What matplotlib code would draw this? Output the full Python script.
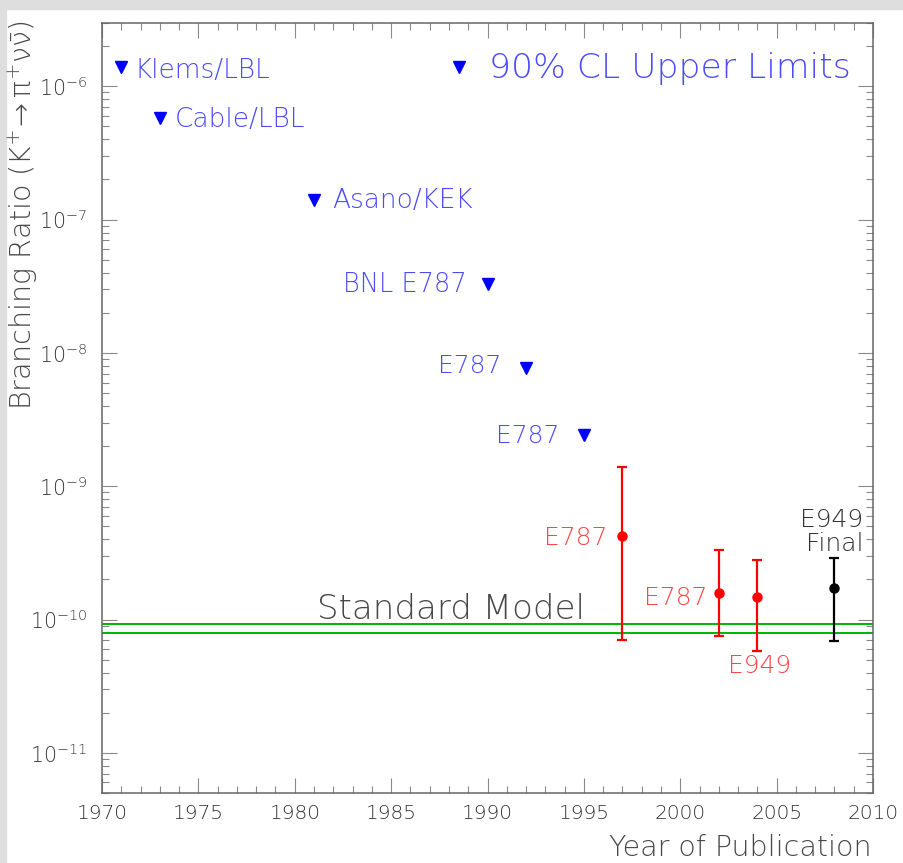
import matplotlib
matplotlib.use("Agg")
import matplotlib.pyplot as plt
from matplotlib.patches import Rectangle
from matplotlib.ticker import LogLocator, MultipleLocator, LogFormatterMathtext, NullFormatter

# ---------------- data ----------------
ul_years = [1971, 1973, 1981, 1990, 1992, 1995]
ul_values = [1.4e-6, 5.8e-7, 1.4e-7, 3.3e-8, 7.7e-9, 2.44e-9]
ul_labels = ["Klems/LBL", "Cable/LBL", "Asano/KEK", "BNL E787", "E787", "E787"]

legend_year = 1988.5
legend_value = 1.4e-6
legend_label = "90% CL Upper Limits"

meas_years = [1997, 2002, 2004, 2008]
meas_values = [4.2e-10, 1.57e-10, 1.47e-10, 1.73e-10]
meas_low = [7.0e-11, 7.5e-11, 5.8e-11, 6.9e-11]
meas_high = [1.4e-9, 3.35e-10, 2.8e-10, 2.9e-10]
meas_labels = ["E787", "E787", "E949", "E949", "Final"]

sm_band = [7.9e-11, 9.3e-11]
sm_label = "Standard Model"

x_ticks = [1970, 1975, 1980, 1985, 1990, 1995, 2000, 2005, 2010]
y_ticks = [1e-11, 1e-10, 1e-9, 1e-8, 1e-7, 1e-6]
x_range = (1970, 2010)
y_range = (5e-12, 3e-6)

# ---------------- style ----------------
FONT = "DejaVu Sans"
plt.rcParams["font.family"] = [FONT]
plt.rcParams["font.weight"] = 200
plt.rcParams["mathtext.fontset"] = "custom"
plt.rcParams["mathtext.rm"] = "DejaVu Sans:weight=200"
plt.rcParams["mathtext.it"] = "DejaVu Sans:italic:weight=200"
plt.rcParams["mathtext.bf"] = "DejaVu Sans:bold"
plt.rcParams["mathtext.default"] = "regular"

BLUE_TXT = "#4a4aff"
RED_TXT = "#ff4545"
DARK_TXT = "#333333"
GREY_TXT = "#484848"
AX_COL = "#666666"
TICK_COL = "#8a8a8a"

W, H = 904, 863
fig = plt.figure(figsize=(W / 100, H / 100), dpi=100)
fig.patch.set_facecolor("white")
# textured-paper border strips
fig.patches.append(Rectangle((0, 1 - 9 / H), 1, 9 / H, transform=fig.transFigure,
                             color="#dedede", zorder=-10))
fig.patches.append(Rectangle((0, 0), 6 / W, 1, transform=fig.transFigure,
                             color="#dedede", zorder=-10))

L, R, T, B = 102, 873, 22.7, 793
ax = fig.add_axes([L / W, (H - B) / H, (R - L) / W, (B - T) / H])
ax.set_yscale("log")
ax.set_xlim(*x_range)

for s in ax.spines.values():
    s.set_color(AX_COL)
    s.set_linewidth(1.1)

ax.xaxis.set_minor_locator(MultipleLocator(1))
ax.set_xticks(x_ticks)
ax.set_yticks(y_ticks)
ax.yaxis.set_minor_locator(LogLocator(base=10, subs=range(2, 10), numticks=40))
ax.yaxis.set_major_formatter(LogFormatterMathtext())
ax.yaxis.set_minor_formatter(NullFormatter())
ax.set_ylim(*y_range)

ax.tick_params(which="both", direction="in", top=True, right=True, color=TICK_COL,
               width=0.8, labelcolor=DARK_TXT)
ax.tick_params(which="major", length=10.5)
ax.tick_params(which="minor", length=5)
ax.tick_params(axis="x", which="major", labelsize=14.5, pad=8)
ax.tick_params(axis="y", which="major", labelsize=14.8, pad=11)

# Standard Model band edges
for v in sm_band:
    ax.axhline(v, color="#00b400", lw=1.4, zorder=2)
ax.annotate(sm_label, xy=(1988.1, sm_band[1]), xytext=(0, 3.6), textcoords="offset points",
            ha="center", va="baseline", fontsize=24.5, color=GREY_TXT)

# upper limits
ax.plot(ul_years, ul_values, linestyle="none", marker="v", ms=8.8, color="#0000ff", zorder=4)
ax.plot([legend_year], [legend_value], linestyle="none", marker="v", ms=8.8,
        color="#0000ff", zorder=4)

ul_offsets = [(9.4, -7.9, "left", 19), (10.8, -6.3, "left", 19), (13.0, -5.8, "left", 19),
              (-15.1, -5.8, "right", 18.5), (-18.0, -3.8, "right", 18),
              (-17.8, -6.3, "right", 18)]
for x, y, lab, (dx, dy, ha, fs) in zip(ul_years, ul_values, ul_labels, ul_offsets):
    ax.annotate(lab, xy=(x, y), xytext=(dx, dy), textcoords="offset points",
                ha=ha, va="baseline", fontsize=fs, color=BLUE_TXT)
ax.annotate(legend_label, xy=(legend_year, legend_value), xytext=(22, -7.8),
            textcoords="offset points", ha="left", va="baseline", fontsize=24.8,
            color=BLUE_TXT)

# measurements
meas_colors = ["#ff0000", "#ff0000", "#ff0000", "#000000"]
for x, v, lo, hi, c in zip(meas_years, meas_values, meas_low, meas_high, meas_colors):
    ax.errorbar([x], [v], yerr=[[v - lo], [hi - v]], fmt="o", color=c, ms=6.5,
                elinewidth=1.6, capsize=3.6, capthick=1.6, zorder=5)

ax.annotate(meas_labels[0], xy=(meas_years[0], meas_values[0]), xytext=(-11, -6),
            textcoords="offset points", ha="right", va="baseline", fontsize=18, color=RED_TXT)
ax.annotate(meas_labels[1], xy=(meas_years[1], meas_values[1]), xytext=(-8, -8.1),
            textcoords="offset points", ha="right", va="baseline", fontsize=18, color=RED_TXT)
ax.annotate(meas_labels[2], xy=(meas_years[2], meas_low[2]), xytext=(1.6, -15.6),
            textcoords="offset points", ha="center", va="baseline", fontsize=18, color=RED_TXT)
ax.annotate(meas_labels[3], xy=(meas_years[3], meas_high[3]), xytext=(-2.4, 22.5),
            textcoords="offset points", ha="center", va="baseline", fontsize=18, color=DARK_TXT)
ax.annotate(meas_labels[4], xy=(meas_years[3], meas_high[3]), xytext=(0, 5),
            textcoords="offset points", ha="center", va="baseline", fontsize=18, color=DARK_TXT)

# axis titles
fig.text(872 / W, 1 - 848 / H, "Year of Publication", ha="right", va="center",
         fontsize=20.5, color=GREY_TXT)
fig.text(23 / W, 1 - 20 / H,
         r"Branching Ratio (K$^{+}\!\rightarrow\pi^{+}\nu\bar{\nu}$)",
         rotation=90, ha="center", va="top", fontsize=20.5, color=GREY_TXT)

fig.savefig("out.png", dpi=100, facecolor=fig.get_facecolor())
